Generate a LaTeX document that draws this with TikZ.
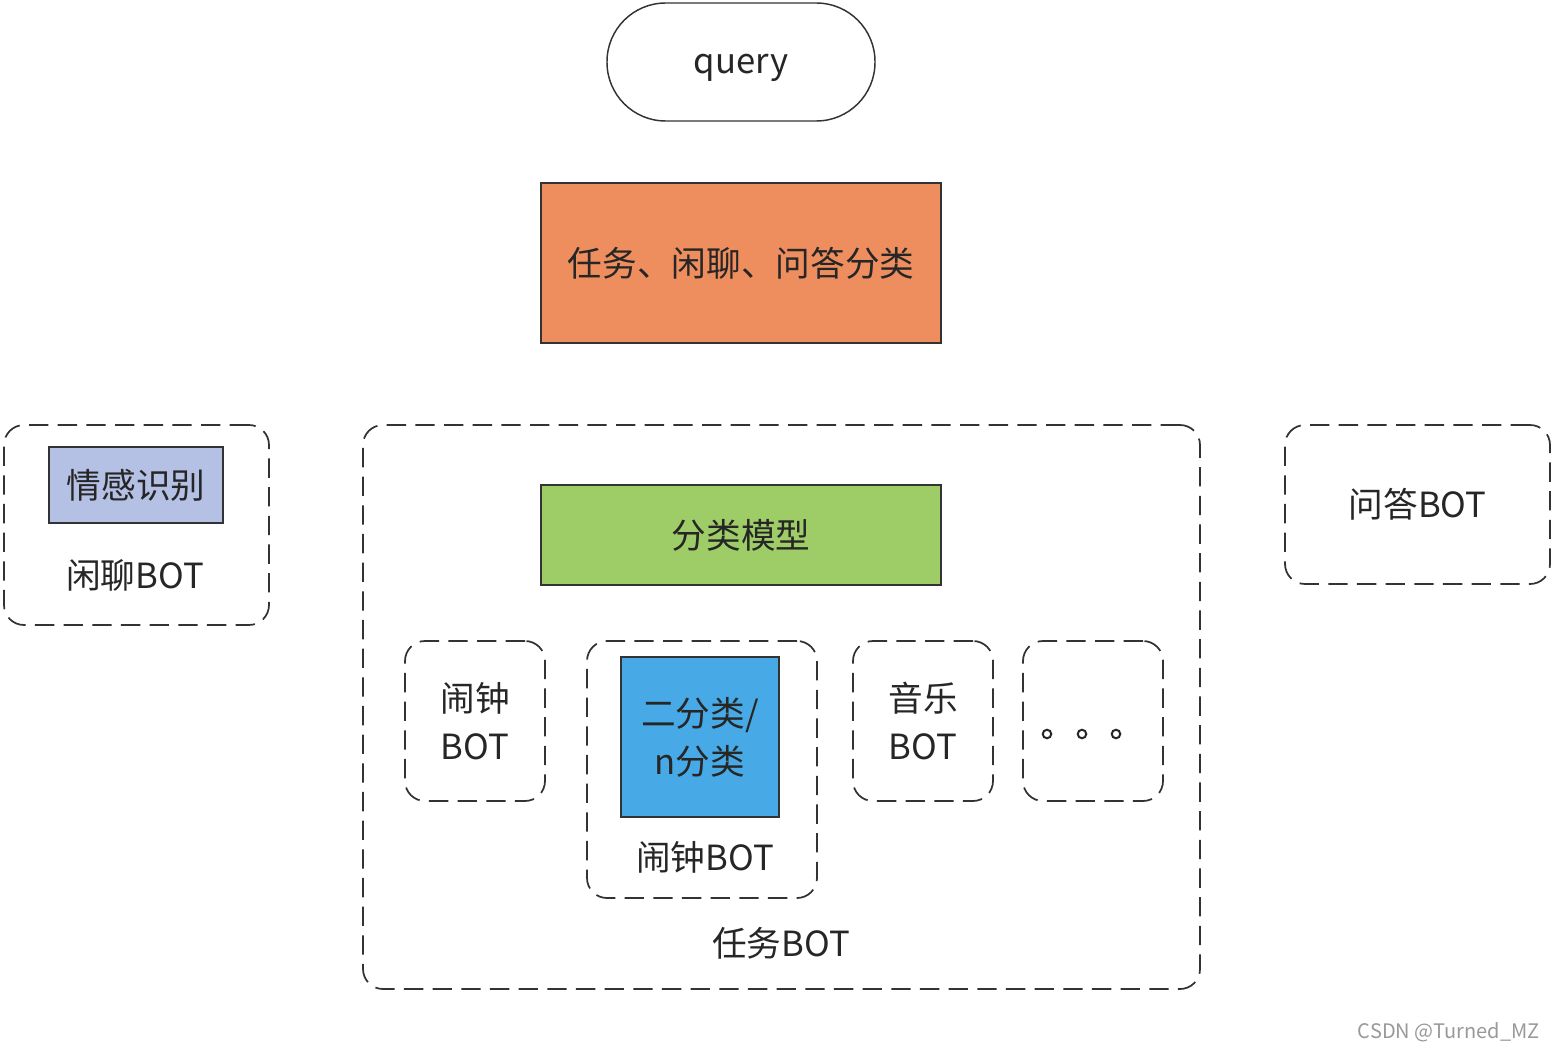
\documentclass[tikz,border=0pt]{standalone}
\usepackage{fontspec}
\setmainfont{Noto Sans CJK SC}
\setsansfont{Noto Sans CJK SC}
\begin{document}
\begin{tikzpicture}[x=0.75pt,y=-0.75pt,
  every node/.style={font=\fontsize{26}{36}\selectfont, text=black!85, inner sep=0pt, align=center},
  solidbox/.style={draw=black!80, line width=1.1pt, minimum width=#1},
  dbox/.style={draw=black!80, line width=1.3pt, dash pattern=on 14.5pt off 7pt, rounded corners=15pt},
  lbl/.style={}
]
\path[use as bounding box, fill=white] (0,0) rectangle (1554,1052);

\node[draw=black!80, line width=1.1pt, rounded corners=44pt, minimum width=201pt, minimum height=88.5pt] (query) at (741,62) {};
\node[anchor=base] (querylbl) at (741,74) {query};

\node[solidbox=300pt, minimum height=120pt, fill={rgb,255:red,238;green,142;blue,94}] (cls) at (741,263) {任务、闲聊、问答分类};

% left chat BOT
\node[dbox, minimum width=198.75pt, minimum height=150pt] (chat) at (136.5,525) {};
\node[solidbox=130.5pt, minimum height=57pt, fill={rgb,255:red,180;green,192;blue,228}] (emo) at (136,485) {情感识别};
\node[lbl] (chatlbl) at (135,575) {闲聊BOT};

% task BOT
\node[dbox, minimum width=627.75pt, minimum height=423pt] (task) at (781.5,707) {};
\node[lbl] (tasklbl) at (781,943) {任务BOT};
\node[solidbox=300pt, minimum height=75pt, fill={rgb,255:red,158;green,205;blue,104}] (model) at (741,535) {分类模型};

\node[dbox, minimum width=105pt, minimum height=120pt] (alarm) at (475,721) {闹钟\\BOT};
\node[dbox, minimum width=172.5pt, minimum height=192.75pt] (alarm2) at (702,769.5) {};
\node[solidbox=118.5pt, minimum height=120pt, fill={rgb,255:red,71;green,169;blue,229}] (bin) at (700,737) {二分类/\\n分类};
\node[lbl] (alarm2lbl) at (705,857) {闹钟BOT};
\node[dbox, minimum width=105pt, minimum height=120pt] (music) at (923,721) {音乐\\BOT};
\node[dbox, minimum width=105pt, minimum height=120pt] (more) at (1093,721) {};
\foreach \x [count=\i] in {1047,1082,1116}{
  \draw[line width=1.5pt, draw=black!85] (\x,734) circle[radius=3.2pt];
}

% QA BOT
\node[dbox, minimum width=198.75pt, minimum height=119.25pt] (qa) at (1417.5,504.5) {问答BOT};

\node[anchor=east, font=\fontsize{15}{18}\selectfont, text=black!40] (wm) at (1540,1032) {CSDN @Turned\_MZ};
\end{tikzpicture}
\end{document}
